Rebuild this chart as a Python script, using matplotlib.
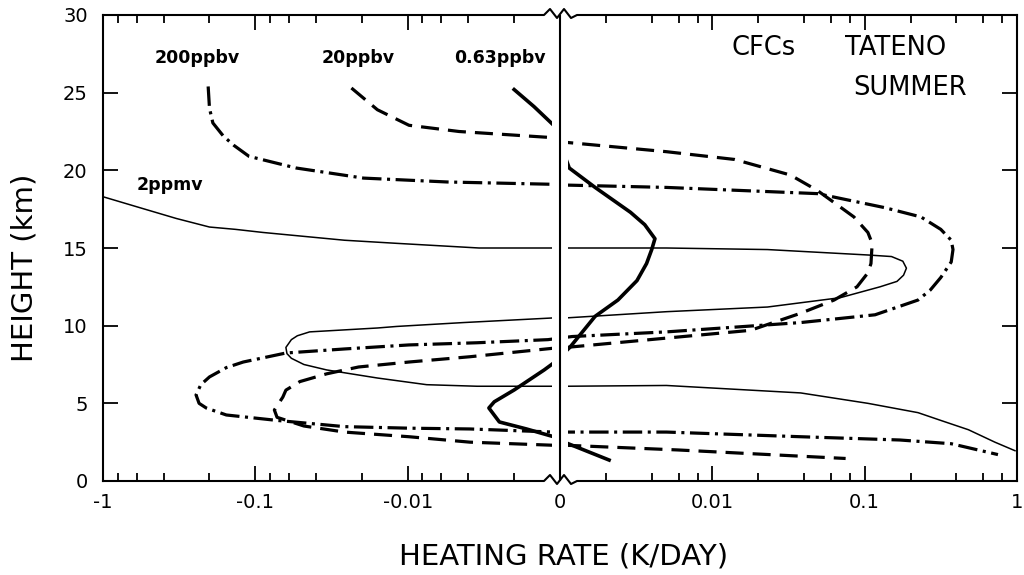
import numpy as np
import matplotlib
matplotlib.use("Agg")
import matplotlib.pyplot as plt
from matplotlib.lines import Line2D

plt.rcParams['font.family'] = ['DejaVu Sans']
plt.rcParams['axes.unicode_minus'] = False
plt.rcParams['lines.scale_dashes'] = False

# Heating rate (K/day) and height (km) for each CFC mixing ratio
rate_2ppmv = [-1, -0.575, -0.33, -0.2, -0.135, -0.089, -0.026, -0.0118, -0.0034, -0.0011,
              0.0011, 0.005, 0.023, 0.105, 0.15, 0.178, 0.188, 0.18, 0.163, 0.126,
              0.069, 0.023, 0.005, 0.0011,
              -0.0011, -0.0043, -0.0118, -0.0158, -0.044, -0.053, -0.058, -0.063,
              -0.062, -0.058, -0.048, -0.034, -0.0158, -0.0075, -0.0035, -0.0011,
              0.0011, 0.005, 0.038, 0.105, 0.224, 0.316, 0.48, 0.716, 0.97]
height_2ppmv = [18.3, 17.6, 16.9, 16.35, 16.2, 16.0, 15.5, 15.3, 15.0, 15.0,
                15.0, 15.0, 14.9, 14.55, 14.45, 14.15, 13.7, 13.25, 12.85, 12.5,
                11.8, 11.2, 10.9, 10.5,
                10.5, 10.2, 9.95, 9.85, 9.6, 9.35, 9.1, 8.6,
                8.2, 7.9, 7.5, 7.15, 6.63, 6.2, 6.1, 6.1,
                6.1, 6.15, 5.67, 5.0, 4.4, 3.9, 3.3, 2.5, 1.95]

rate_200ppbv = [-0.204, -0.2, -0.19, -0.162, -0.138, -0.11, -0.054, -0.0195, -0.0055,
                -0.0011,
                0.0011, 0.005, 0.049, 0.135, 0.234, 0.316, 0.37, 0.38, 0.37, 0.316,
                0.27, 0.224, 0.117, 0.038, 0.0138, 0.005, 0.0012,
                -0.0012, -0.0035, -0.0098, -0.026, -0.063, -0.12, -0.155, -0.2,
                -0.228, -0.245, -0.234, -0.21, -0.155, -0.072, -0.026, -0.0098,
                -0.0039, -0.0011,
                0.0011, 0.005, 0.038, 0.17, 0.37, 0.75]
height_200ppbv = [25.4, 24.0, 23.05, 22.2, 21.6, 20.9, 20.15, 19.5, 19.25,
                  19.1,
                  19.05, 18.9, 18.5, 17.6, 17.0, 16.2, 15.5, 14.9, 14.1, 13.1,
                  12.3, 11.65, 10.7, 10.2, 9.9, 9.6, 9.3,
                  9.1, 8.9, 8.76, 8.5, 8.24, 7.66, 7.3, 6.7,
                  6.2, 5.54, 5.0, 4.7, 4.25, 3.9, 3.5, 3.4,
                  3.35, 3.15,
                  3.15, 3.15, 2.85, 2.64, 2.4, 1.7]

rate_20ppbv = [-0.0234, -0.0158, -0.0098, -0.0046, -0.0011,
               0.0011, 0.005, 0.014, 0.0325, 0.049, 0.085, 0.105, 0.112, 0.11,
               0.105, 0.089, 0.063, 0.038, 0.0178, 0.005, 0.0011,
               -0.0011, -0.0039, -0.0098, -0.021, -0.034, -0.051, -0.063, -0.066,
               -0.075, -0.072, -0.048, -0.026, -0.0098, -0.0039, -0.0011,
               0.0011, 0.0059, 0.075]
height_20ppbv = [25.3, 23.9, 22.9, 22.5, 22.1,
                 21.8, 21.2, 20.7, 19.7, 18.7, 17.0, 16.0, 15.3, 14.0,
                 13.4, 12.5, 11.65, 10.8, 9.7, 9.2, 8.6,
                 8.55, 8.0, 7.66, 7.34, 6.9, 6.4, 5.85, 5.4,
                 4.57, 4.1, 3.54, 3.15, 2.85, 2.5, 2.3,
                 2.3, 2.0, 1.45]

rate_063ppbv = [-0.002, -0.00148, -0.0011,
                0.00115, 0.0017, 0.0029, 0.0036, 0.0042, 0.004, 0.0037, 0.0032,
                0.0024, 0.0017, 0.00116,
                -0.0011, -0.00127, -0.002, -0.0027, -0.00293, -0.0025, -0.00166,
                -0.0011,
                0.0011, 0.0021]
height_063ppbv = [25.2, 24.1, 22.9,
                  20.15, 18.9, 17.3, 16.5, 15.6, 14.9, 14.0, 12.9,
                  11.65, 10.6, 8.6,
                  7.6, 7.15, 5.86, 5.1, 4.7, 3.8, 3.35,
                  2.85,
                  2.45, 1.35]

# Axis ticks
x_major = [-1, -0.1, -0.01, 0, 0.01, 0.1, 1]
x_labels = ['-1', '-0.1', '-0.01', '0', '0.01', '0.1', '1']
x_minor = [s * m * 10.0 ** k for s in (-1, 1) for k in (-1, -2, -3) for m in (2, 4, 6, 8)]
y_major = [0, 5, 10, 15, 20, 25, 30]


# Two log halves (negative and positive) joined at +-0.001
def forward(v):
    v = np.asarray(v, dtype=float)
    a = np.maximum(np.abs(v), 1e-3)
    return np.sign(v) * (np.log10(a) + 3)


def inverse(u):
    u = np.asarray(u, dtype=float)
    return np.sign(u) * 10 ** (np.abs(u) - 3)


fig = plt.figure(figsize=(10.24, 5.75), dpi=100)
ax_w = 914
ax = fig.add_axes([103 / 1024, 1 - 481 / 575, ax_w / 1024, 466 / 575])
ax.set_xscale('function', functions=(forward, inverse))
ax.set_xlim(-1, 1)
ax.set_ylim(0, 30)

# Curves
ax.plot(rate_2ppmv, height_2ppmv, color='black', lw=1.1, zorder=2)
ax.plot(rate_200ppbv, height_200ppbv, color='black', lw=2.3, zorder=2,
        dashes=(14, 4, 2.2, 4))
ax.plot(rate_20ppbv, height_20ppbv, color='black', lw=2.3, zorder=2,
        dashes=(13, 6.5))
ax.plot(rate_063ppbv, height_063ppbv, color='black', lw=2.6, zorder=2)

# Gap at the break and the zero line
ax.axvspan(-0.00113, 0.00113, color='white', lw=0, zorder=2.2)
ax.axvline(0, color='black', lw=1.5, zorder=3)

# Ticks
ax.set_xticks(x_major, labels=x_labels)
ax.set_xticks(x_minor, minor=True)
ax.set_yticks(y_major)
ax.tick_params(which='both', direction='in', top=True, right=True,
               labelsize=14, width=1.3)
ax.tick_params(which='major', length=11)
ax.tick_params(which='minor', length=6)
ax.tick_params(axis='x', pad=9)
ax.tick_params(axis='y', pad=11)
for s in ax.spines.values():
    s.set_linewidth(1.5)

# Top and bottom spines with a zigzag break in the middle
ax.spines['top'].set_visible(False)
ax.spines['bottom'].set_visible(False)
zx = np.array([-16, -10, -3, 4, 11, 17]) / ax_w + 0.5
zy = np.array([0, 6, -3, 6, -3, 0]) / 466
for y0 in (0, 1):
    xs = np.concatenate([[0], zx, [1]])
    ys = np.concatenate([[y0], y0 + zy, [y0]])
    ax.add_line(Line2D(xs, ys, transform=ax.transAxes, color='black',
                       lw=1.5, clip_on=False, zorder=5))

# Labels
ax.text(0.0567, 0.897, '200ppbv', transform=ax.transAxes, fontsize=12.5,
        fontweight='bold', va='baseline')
ax.text(0.2388, 0.897, '20ppbv', transform=ax.transAxes, fontsize=12.5,
        fontweight='bold', va='baseline')
ax.text(0.3839, 0.897, '0.63ppbv', transform=ax.transAxes, fontsize=12.5,
        fontweight='bold', va='baseline')
ax.text(0.0371, 0.6245, '2ppmv', transform=ax.transAxes, fontsize=12.5,
        fontweight='bold', va='baseline')
ax.text(0.688, 0.914, 'CFCs', transform=ax.transAxes, fontsize=18.5,
        va='baseline')
ax.text(0.812, 0.914, 'TATENO', transform=ax.transAxes, fontsize=18.5,
        va='baseline')
ax.text(0.821, 0.828, 'SUMMER', transform=ax.transAxes, fontsize=18.5,
        va='baseline')

fig.text(564 / 1024, 1 - 557 / 575, 'HEATING RATE (K/DAY)', fontsize=21,
         ha='center', va='center')
fig.text(25 / 1024, 1 - 268 / 575, 'HEIGHT (km)', fontsize=21,
         ha='center', va='center', rotation=90)

plt.savefig('out.png', dpi=100)
